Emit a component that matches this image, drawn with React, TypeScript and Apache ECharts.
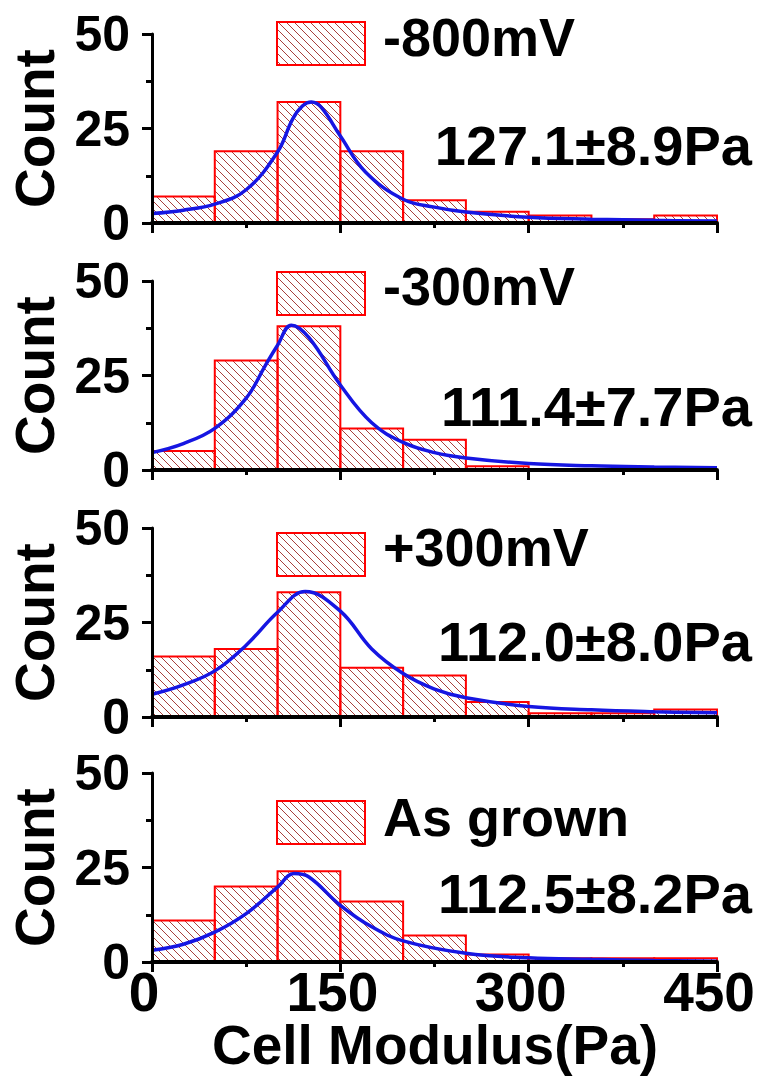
import React, { useEffect, useRef } from 'react';
import * as echarts from 'echarts';

// ---- data ----
const binEdges = [0, 50, 100, 150, 200, 250, 300, 350, 400, 450];
const panelLabels = ['-800mV', '-300mV', '+300mV', 'As grown'];
const meanLabels = ['127.1±8.9Pa', '111.4±7.7Pa', '112.0±8.0Pa', '112.5±8.2Pa'];

const countsM800 = [7, 19, 32, 19, 6, 3, 2, 1, 2];
const countsM300 = [5, 29, 38, 11, 8, 1, 0, 0, 0];
const countsP300 = [16, 18, 33, 13, 11, 4, 1, 1, 2];
const countsGrown = [11, 20, 24, 16, 7, 2, 1, 1, 1];

const fitXM800 = [0, 25, 50, 75, 100, 112, 120, 127, 135, 150, 170, 200, 225, 250, 300, 350, 400, 450];
const fitYM800 = [2.5, 3.4, 5.0, 8.8, 18.8, 27.5, 31, 32, 30.5, 23, 13.5, 6.3, 4.2, 2.9, 1.5, 1.0, 0.7, 0.5];
const fitXM300 = [0, 25, 50, 75, 90, 100, 111, 125, 150, 175, 200, 225, 250, 300, 350, 400, 450];
const fitYM300 = [4.6, 7, 11, 19, 27.5, 33, 38.3, 35, 22.5, 12.5, 7.3, 4.6, 3.2, 1.7, 1.1, 0.8, 0.6];
const fitXP300 = [0, 25, 50, 75, 100, 122, 150, 175, 200, 225, 250, 300, 350, 400, 450];
const fitYP300 = [6, 8.5, 12.2, 19, 27.7, 33.2, 28, 18, 11.5, 7.4, 5.1, 2.8, 1.9, 1.4, 1.1];
const fitXGrown = [0, 25, 50, 75, 100, 113, 125, 150, 175, 200, 250, 300, 350, 400, 450];
const fitYGrown = [3.1, 4.7, 7.9, 12.8, 19.8, 23.4, 22.5, 15, 9.3, 5.6, 2.3, 1.1, 0.7, 0.4, 0.2];

const xTickLabels = [0, 150, 300, 450];
const yTickLabels = [0, 25, 50];

const allCounts = [countsM800, countsM300, countsP300, countsGrown];
const allFitX = [fitXM800, fitXM300, fitXP300, fitXGrown];
const allFitY = [fitYM800, fitYM300, fitYP300, fitYGrown];

// ---- layout ----
const FONT = "'Liberation Sans', Arial, sans-serif";
const gridTops = [34, 281, 528, 773];
const gridH = 189;
const gridLeft = 152;
const gridW = 565;
const legendRectTops = [22, 272, 533, 801];
const legendTextY = [37, 286, 547, 817];
const meanTextY = [145, 406, 641, 893];

export default function App() {
  const ref = useRef<HTMLDivElement>(null);

  useEffect(() => {
    document.body.style.margin = '0';
    if (!ref.current) return;
    const chart = echarts.init(ref.current, undefined, { renderer: 'svg' });

    const T = 8;
    const c = document.createElement('canvas');
    c.width = T;
    c.height = T;
    const ctx = c.getContext('2d')!;
    ctx.strokeStyle = '#a8403c';
    ctx.lineWidth = 1;
    for (const o of [-T, 0, T]) {
      ctx.beginPath();
      ctx.moveTo(o, 0);
      ctx.lineTo(o + T, T);
      ctx.stroke();
    }
    const hatch: any = { image: c.toDataURL(), repeat: 'repeat', imageWidth: T, imageHeight: T };

    const grids = gridTops.map((t) => ({
      left: gridLeft,
      top: t,
      width: gridW,
      height: gridH,
      containLabel: false,
      outerBoundsMode: 'none',
    }));

    const xAxes = gridTops.map((_, i) => ({
      type: 'value',
      gridIndex: i,
      min: 0,
      max: 450,
      interval: 150,
      z: 10,
      splitLine: { show: false },
      axisLine: { show: true, onZero: false, lineStyle: { color: '#000', width: 4 } },
      axisTick: { show: true, length: 10, lineStyle: { color: '#000', width: 3 } },
      minorTick: { show: true, splitNumber: 2, length: 5, lineStyle: { color: '#000', width: 3 } },
      axisLabel: {
        show: i === 3,
        margin: 8,
        fontSize: 55,
        lineHeight: 44,
        fontWeight: 'bold',
        fontFamily: FONT,
        color: '#000',
        padding: [0, 16, 0, 0],
        formatter: (v: number) => (xTickLabels.includes(v) ? String(v) : ''),
      },
    }));

    const yAxes = gridTops.map((_, i) => ({
      type: 'value',
      gridIndex: i,
      min: 0,
      max: 50,
      interval: 25,
      z: 10,
      splitLine: { show: false },
      axisLine: { show: true, onZero: false, lineStyle: { color: '#000', width: 3 } },
      axisTick: { show: true, length: 10, lineStyle: { color: '#000', width: 3 } },
      minorTick: { show: true, splitNumber: 2, length: 6, lineStyle: { color: '#000', width: 3 } },
      axisLabel: {
        margin: 22,
        fontSize: 50,
        lineHeight: 42,
        fontWeight: 'bold',
        fontFamily: FONT,
        color: '#000',
        formatter: (v: number) => (yTickLabels.includes(v) ? String(v) : ''),
      },
    }));

    const series: any[] = [];
    allCounts.forEach((counts, i) => {
      series.push({
        type: 'custom',
        xAxisIndex: i,
        yAxisIndex: i,
        z: 2,
        encode: { x: [0, 1], y: 2 },
        data: counts.map((v, k) => [binEdges[k], binEdges[k + 1], v]),
        renderItem: (params: any, api: any) => {
          const p0 = api.coord([api.value(0), api.value(2)]);
          const p1 = api.coord([api.value(1), 0]);
          return {
            type: 'rect',
            shape: { x: p0[0], y: p0[1], width: p1[0] - p0[0], height: p1[1] - p0[1] },
            style: { fill: hatch, stroke: '#ff0000', lineWidth: 2 },
          };
        },
      });
      series.push({
        type: 'line',
        xAxisIndex: i,
        yAxisIndex: i,
        z: 5,
        showSymbol: false,
        smooth: 0.4,
        lineStyle: { color: '#1616e2', width: 3.5 },
        data: allFitX[i].map((x, k) => [x, allFitY[i][k]]),
      });
    });

    const textStyle = (text: string, size: number, align: string, vAlign = 'middle') => ({
      text,
      fontSize: size,
      fontWeight: 'bold',
      fontFamily: FONT,
      fill: '#000',
      lineHeight: Math.round(size * 0.8),
      align,
      textAlign: align,
      verticalAlign: vAlign,
      textVerticalAlign: vAlign,
    });

    const graphics: any[] = [];
    gridTops.forEach((t, i) => {
      graphics.push({
        type: 'rect',
        shape: { x: 277, y: legendRectTops[i], width: 88, height: 43 },
        style: { fill: hatch, stroke: '#ff0000', lineWidth: 2 },
      });
      graphics.push({
        type: 'text',
        x: 383,
        y: legendTextY[i],
        style: textStyle(panelLabels[i], 54, 'left'),
      });
      graphics.push({
        type: 'text',
        x: 752,
        y: meanTextY[i],
        style: textStyle(meanLabels[i], 56, 'right'),
      });
      graphics.push({
        type: 'text',
        x: 35,
        y: t + gridH / 2,
        rotation: Math.PI / 2,
        style: textStyle('Count', 55, 'center'),
      });
    });
    graphics.push({
      type: 'text',
      x: 435,
      y: 1045,
      style: textStyle('Cell Modulus(Pa)', 55, 'center'),
    });

    chart.setOption({
      animation: false,
      backgroundColor: '#fff',
      grid: grids,
      xAxis: xAxes,
      yAxis: yAxes,
      series,
      graphic: graphics,
    });

    return () => chart.dispose();
  }, []);

  return <div ref={ref} style={{ width: 760, height: 1077 }} />;
}
